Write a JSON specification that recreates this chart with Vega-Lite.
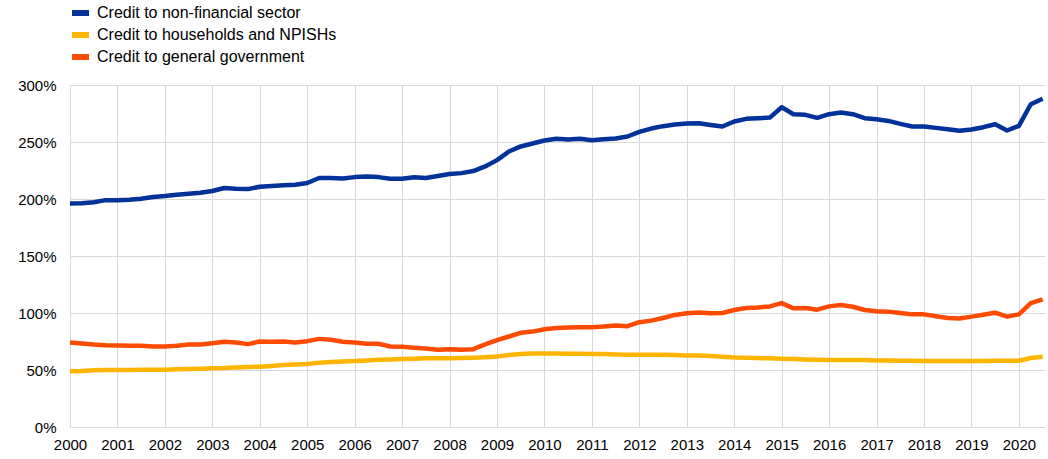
{
  "$schema": "https://vega.github.io/schema/vega-lite/v6.json",
  "width": 975,
  "height": 342,
  "autosize": {"type": "none"},
  "padding": {"left": 70, "top": 85, "right": 3, "bottom": 32},
  "config": {
    "view": {"stroke": null},
    "font": "Liberation Sans",
    "axis": {"labelFont": "Liberation Sans", "labelFontSize": 15, "labelColor": "#000000", "gridColor": "#d9d9d9", "gridWidth": 1, "domain": false, "ticks": false, "title": null}
  },
  "data": {"values": [
    {"q": 2000.00, "nfs": 196.0, "hh": 48.8, "gg": 74.1},
    {"q": 2000.25, "nfs": 196.2, "hh": 49.1, "gg": 73.3},
    {"q": 2000.50, "nfs": 197.1, "hh": 49.7, "gg": 72.4},
    {"q": 2000.75, "nfs": 199.0, "hh": 50.0, "gg": 71.8},
    {"q": 2001.00, "nfs": 198.8, "hh": 50.0, "gg": 71.5},
    {"q": 2001.25, "nfs": 199.4, "hh": 50.0, "gg": 71.2},
    {"q": 2001.50, "nfs": 200.3, "hh": 50.3, "gg": 71.2},
    {"q": 2001.75, "nfs": 201.7, "hh": 50.3, "gg": 70.6},
    {"q": 2002.00, "nfs": 202.6, "hh": 50.3, "gg": 70.6},
    {"q": 2002.25, "nfs": 203.8, "hh": 50.6, "gg": 71.2},
    {"q": 2002.50, "nfs": 204.7, "hh": 50.9, "gg": 72.4},
    {"q": 2002.75, "nfs": 205.5, "hh": 51.2, "gg": 72.4},
    {"q": 2003.00, "nfs": 207.0, "hh": 51.5, "gg": 73.5},
    {"q": 2003.25, "nfs": 209.6, "hh": 51.7, "gg": 74.7},
    {"q": 2003.50, "nfs": 209.0, "hh": 52.3, "gg": 74.1},
    {"q": 2003.75, "nfs": 208.7, "hh": 52.6, "gg": 72.7},
    {"q": 2004.00, "nfs": 210.8, "hh": 52.9, "gg": 75.0},
    {"q": 2004.25, "nfs": 211.4, "hh": 53.5, "gg": 74.7},
    {"q": 2004.50, "nfs": 212.0, "hh": 54.4, "gg": 75.0},
    {"q": 2004.75, "nfs": 212.5, "hh": 54.9, "gg": 74.1},
    {"q": 2005.00, "nfs": 214.0, "hh": 55.2, "gg": 75.3},
    {"q": 2005.25, "nfs": 218.4, "hh": 56.4, "gg": 77.3},
    {"q": 2005.50, "nfs": 218.4, "hh": 57.0, "gg": 76.5},
    {"q": 2005.75, "nfs": 218.0, "hh": 57.5, "gg": 74.7},
    {"q": 2006.00, "nfs": 219.2, "hh": 57.8, "gg": 74.1},
    {"q": 2006.25, "nfs": 219.8, "hh": 58.4, "gg": 73.0},
    {"q": 2006.50, "nfs": 219.2, "hh": 59.0, "gg": 73.0},
    {"q": 2006.75, "nfs": 217.8, "hh": 59.3, "gg": 70.6},
    {"q": 2007.00, "nfs": 217.8, "hh": 59.6, "gg": 70.3},
    {"q": 2007.25, "nfs": 219.0, "hh": 59.9, "gg": 69.5},
    {"q": 2007.50, "nfs": 218.4, "hh": 60.2, "gg": 68.9},
    {"q": 2007.75, "nfs": 220.1, "hh": 60.2, "gg": 67.7},
    {"q": 2008.00, "nfs": 221.9, "hh": 60.2, "gg": 68.3},
    {"q": 2008.25, "nfs": 222.7, "hh": 60.5, "gg": 67.7},
    {"q": 2008.50, "nfs": 224.5, "hh": 60.8, "gg": 68.3},
    {"q": 2008.75, "nfs": 228.6, "hh": 61.1, "gg": 72.4},
    {"q": 2009.00, "nfs": 234.1, "hh": 61.9, "gg": 76.2},
    {"q": 2009.25, "nfs": 241.7, "hh": 63.1, "gg": 79.4},
    {"q": 2009.50, "nfs": 246.1, "hh": 64.0, "gg": 82.6},
    {"q": 2009.75, "nfs": 248.7, "hh": 64.5, "gg": 83.7},
    {"q": 2010.00, "nfs": 251.3, "hh": 64.5, "gg": 85.8},
    {"q": 2010.25, "nfs": 252.8, "hh": 64.5, "gg": 86.9},
    {"q": 2010.50, "nfs": 252.2, "hh": 64.2, "gg": 87.2},
    {"q": 2010.75, "nfs": 252.8, "hh": 64.2, "gg": 87.5},
    {"q": 2011.00, "nfs": 251.6, "hh": 64.0, "gg": 87.5},
    {"q": 2011.25, "nfs": 252.5, "hh": 64.0, "gg": 88.1},
    {"q": 2011.50, "nfs": 253.1, "hh": 63.7, "gg": 89.0},
    {"q": 2011.75, "nfs": 254.8, "hh": 63.4, "gg": 88.4},
    {"q": 2012.00, "nfs": 258.9, "hh": 63.4, "gg": 91.9},
    {"q": 2012.25, "nfs": 261.8, "hh": 63.4, "gg": 93.3},
    {"q": 2012.50, "nfs": 263.9, "hh": 63.4, "gg": 95.6},
    {"q": 2012.75, "nfs": 265.3, "hh": 63.1, "gg": 98.3},
    {"q": 2013.00, "nfs": 266.2, "hh": 62.8, "gg": 99.7},
    {"q": 2013.25, "nfs": 266.5, "hh": 62.8, "gg": 100.5},
    {"q": 2013.50, "nfs": 265.0, "hh": 62.2, "gg": 99.7},
    {"q": 2013.75, "nfs": 263.6, "hh": 61.6, "gg": 100.0},
    {"q": 2014.00, "nfs": 268.0, "hh": 61.0, "gg": 102.6},
    {"q": 2014.25, "nfs": 270.3, "hh": 60.8, "gg": 104.4},
    {"q": 2014.50, "nfs": 270.9, "hh": 60.5, "gg": 104.9},
    {"q": 2014.75, "nfs": 271.4, "hh": 60.2, "gg": 105.8},
    {"q": 2015.00, "nfs": 280.5, "hh": 59.9, "gg": 108.7},
    {"q": 2015.25, "nfs": 274.4, "hh": 59.6, "gg": 104.1},
    {"q": 2015.50, "nfs": 273.8, "hh": 59.3, "gg": 104.4},
    {"q": 2015.75, "nfs": 271.2, "hh": 59.0, "gg": 102.9},
    {"q": 2016.00, "nfs": 274.4, "hh": 58.7, "gg": 105.8},
    {"q": 2016.25, "nfs": 275.8, "hh": 58.7, "gg": 107.0},
    {"q": 2016.50, "nfs": 274.4, "hh": 58.7, "gg": 105.5},
    {"q": 2016.75, "nfs": 270.9, "hh": 58.7, "gg": 102.6},
    {"q": 2017.00, "nfs": 270.0, "hh": 58.4, "gg": 101.5},
    {"q": 2017.25, "nfs": 268.5, "hh": 58.4, "gg": 101.2},
    {"q": 2017.50, "nfs": 265.9, "hh": 58.1, "gg": 100.0},
    {"q": 2017.75, "nfs": 263.6, "hh": 58.1, "gg": 98.8},
    {"q": 2018.00, "nfs": 263.6, "hh": 57.8, "gg": 98.8},
    {"q": 2018.25, "nfs": 262.4, "hh": 57.8, "gg": 97.1},
    {"q": 2018.50, "nfs": 261.2, "hh": 57.8, "gg": 95.6},
    {"q": 2018.75, "nfs": 259.8, "hh": 57.8, "gg": 95.1},
    {"q": 2019.00, "nfs": 260.9, "hh": 57.8, "gg": 96.8},
    {"q": 2019.25, "nfs": 263.0, "hh": 57.8, "gg": 98.5},
    {"q": 2019.50, "nfs": 265.6, "hh": 58.1, "gg": 100.3},
    {"q": 2019.75, "nfs": 260.1, "hh": 58.1, "gg": 96.8},
    {"q": 2020.00, "nfs": 264.2, "hh": 58.1, "gg": 98.8},
    {"q": 2020.25, "nfs": 283.1, "hh": 60.5, "gg": 108.7},
    {"q": 2020.50, "nfs": 288.0, "hh": 61.6, "gg": 112.0}
  ]},
  "transform": [
    {"fold": ["nfs", "hh", "gg"], "as": ["key", "value"]},
    {"lookup": "key", "from": {"data": {"values": [
      {"key": "nfs", "series": "Credit to non-financial sector"},
      {"key": "hh", "series": "Credit to households and NPISHs"},
      {"key": "gg", "series": "Credit to general government"}
    ]}, "key": "key", "fields": ["series"]}}
  ],
  "mark": {"type": "line", "strokeWidth": 4.5, "strokeJoin": "round"},
  "encoding": {
    "x": {
      "field": "q", "type": "quantitative",
      "scale": {"domain": [2000, 2020.55], "nice": false, "zero": false},
      "axis": {"values": [2000, 2001, 2002, 2003, 2004, 2005, 2006, 2007, 2008, 2009, 2010, 2011, 2012, 2013, 2014, 2015, 2016, 2017, 2018, 2019, 2020], "format": "d", "labelFlush": false, "labelPadding": 10, "grid": true}
    },
    "y": {
      "field": "value", "type": "quantitative",
      "scale": {"domain": [0, 300], "nice": false},
      "axis": {"values": [0, 50, 100, 150, 200, 250, 300], "labelExpr": "datum.value + '%'", "labelPadding": 14, "grid": true}
    },
    "color": {
      "field": "series", "type": "nominal",
      "scale": {"domain": ["Credit to non-financial sector", "Credit to households and NPISHs", "Credit to general government"], "range": ["#003299", "#ffb400", "#ff4b00"]},
      "legend": {"title": null, "orient": "none", "legendX": 2, "legendY": -80, "direction": "vertical", "symbolType": "M-1.8,0H1.8", "symbolStrokeWidth": 6, "symbolSize": 100, "labelFont": "Liberation Sans", "labelFontSize": 16, "labelColor": "#000000", "labelLimit": 0, "labelOffset": 9, "rowPadding": 6, "clipHeight": 16}
    }
  }
}
